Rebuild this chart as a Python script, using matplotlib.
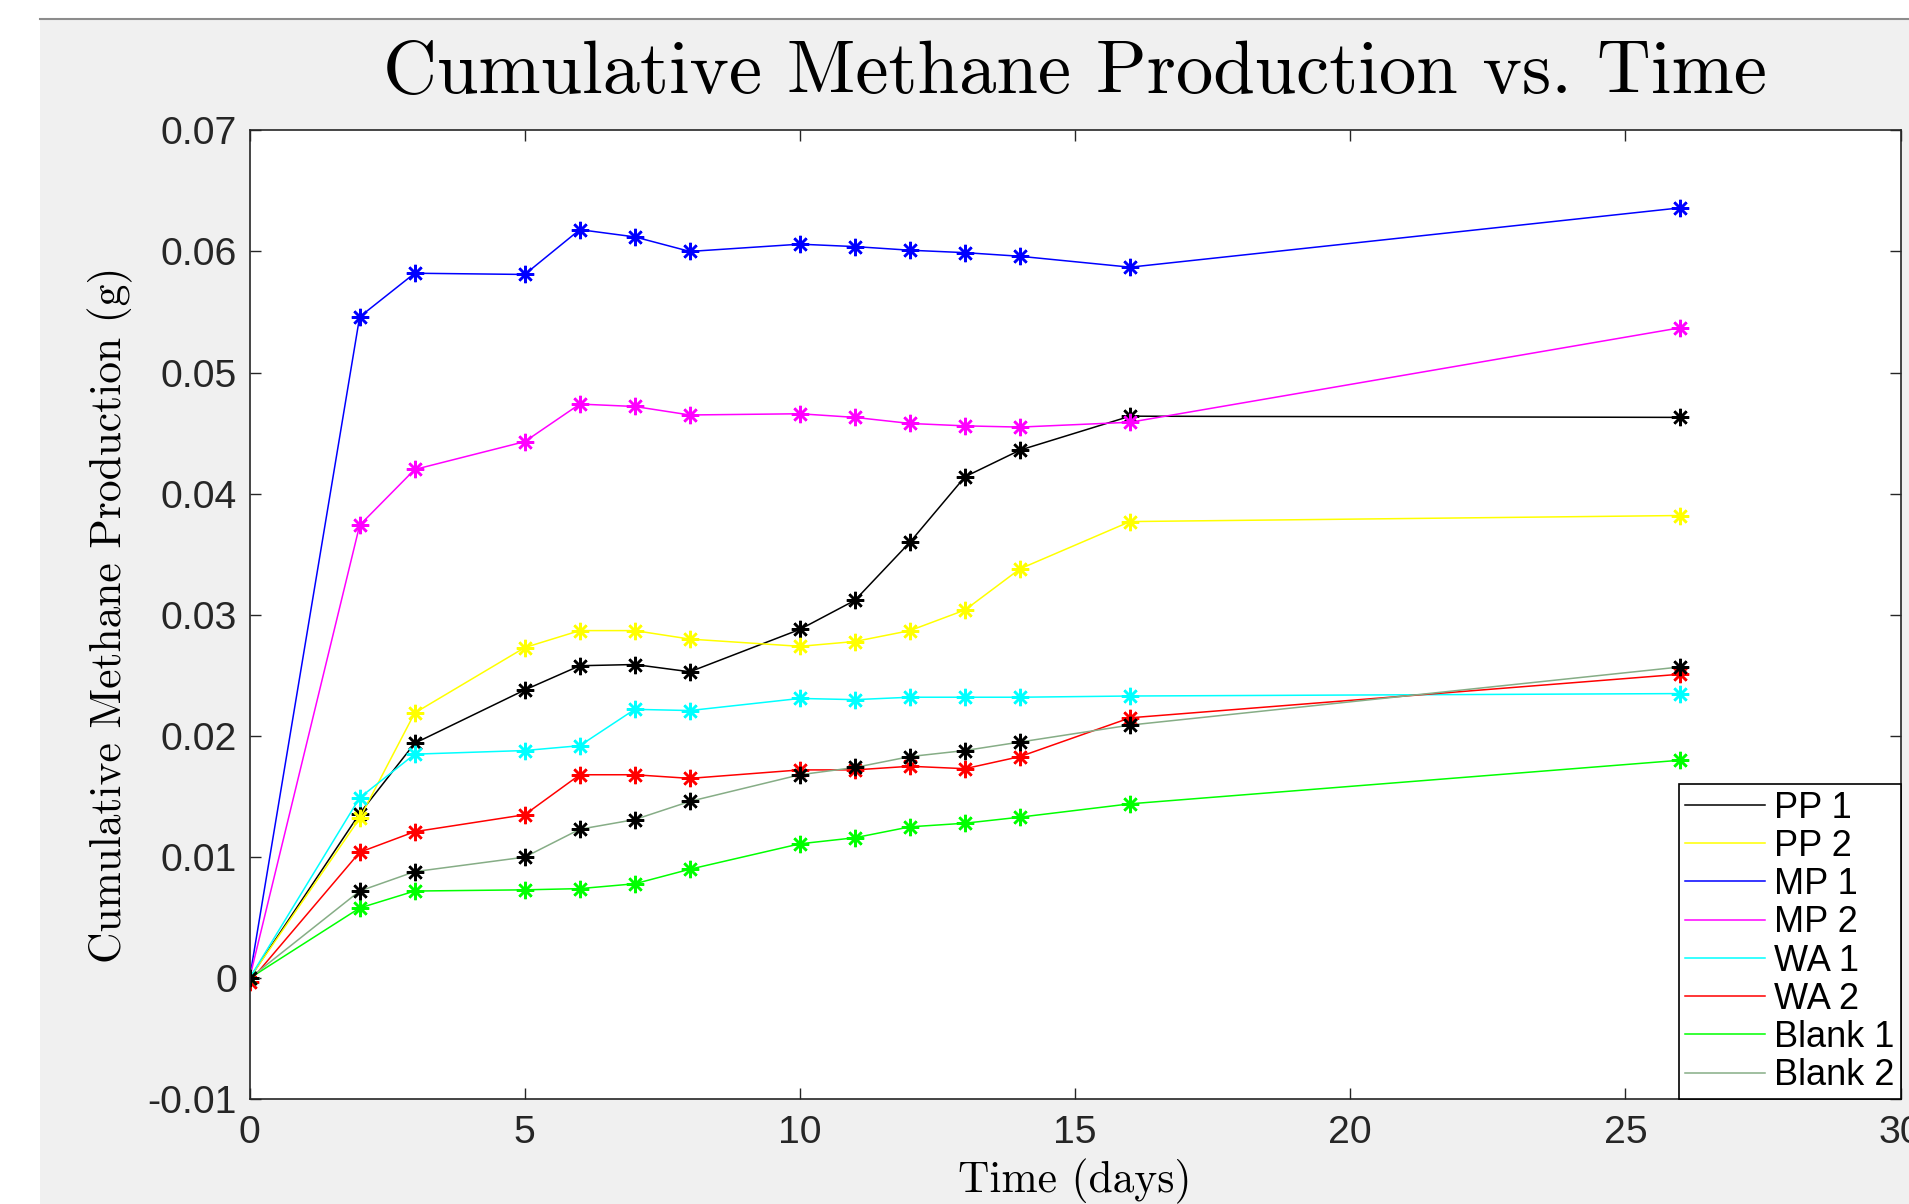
import matplotlib
matplotlib.use('Agg')
import matplotlib.pyplot as plt
from matplotlib.patches import Rectangle
from matplotlib.lines import Line2D

plt.rcParams['font.family'] = ['Liberation Sans', 'DejaVu Sans']

# ---- data ----
days = [0, 2, 3, 5, 6, 7, 8, 10, 11, 12, 13, 14, 16, 26]
pp1 = [0, 0.0136, 0.0194, 0.0238, 0.0258, 0.0259, 0.0253, 0.0288, 0.0312, 0.0360, 0.0414, 0.0436, 0.0464, 0.0463]
pp2 = [0, 0.0132, 0.0219, 0.0273, 0.0287, 0.0287, 0.0280, 0.0274, 0.0278, 0.0287, 0.0304, 0.0338, 0.0377, 0.0382]
mp1 = [0, 0.0546, 0.0582, 0.0581, 0.0618, 0.0612, 0.0600, 0.0606, 0.0604, 0.0601, 0.0599, 0.0596, 0.0587, 0.0636]
mp2 = [0, 0.0374, 0.0420, 0.0443, 0.0474, 0.0472, 0.0465, 0.0466, 0.0463, 0.0458, 0.0456, 0.0455, 0.0459, 0.0537]
wa1 = [0, 0.0149, 0.0185, 0.0188, 0.0192, 0.0222, 0.0221, 0.0231, 0.0230, 0.0232, 0.0232, 0.0232, 0.0233, 0.0235]
wa2 = [-0.0003, 0.0104, 0.0121, 0.0135, 0.0168, 0.0168, 0.0165, 0.0172, 0.0172, 0.0175, 0.0173, 0.0183, 0.0215, 0.0251]
blank1 = [0, 0.0058, 0.0072, 0.0073, 0.0074, 0.0078, 0.0090, 0.0111, 0.0116, 0.0125, 0.0128, 0.0133, 0.0144, 0.0180]
blank2 = [0, 0.0072, 0.0088, 0.0100, 0.0123, 0.0131, 0.0146, 0.0168, 0.0174, 0.0183, 0.0188, 0.0195, 0.0209, 0.0257]

series = [pp1, pp2, mp1, mp2, wa1, wa2, blank1, blank2]
labels = ['PP 1', 'PP 2', 'MP 1', 'MP 2', 'WA 1', 'WA 2', 'Blank 1', 'Blank 2']
line_colors = ['#000000', '#ffff00', '#0000ff', '#ff00ff', '#00ffff', '#ff0000', '#00ff00', '#86ad86']
marker_colors = ['#000000', '#ffff00', '#0000ff', '#ff00ff', '#00ffff', '#ff0000', '#00ff00', '#000000']

xticks = [0, 5, 10, 15, 20, 25, 30]
xtick_labels = ['0', '5', '10', '15', '20', '25', '30']
yticks = [-0.01, 0, 0.01, 0.02, 0.03, 0.04, 0.05, 0.06, 0.07]
ytick_labels = ['-0.01', '0', '0.01', '0.02', '0.03', '0.04', '0.05', '0.06', '0.07']

title = 'Cumulative Methane Production vs. Time'
xlabel = 'Time (days)'
ylabel = 'Cumulative Methane Production (g)'

# ---- figure ----
W, H = 1909, 1204
fig = plt.figure(figsize=(W / 100, H / 100), dpi=100, facecolor='white')
fig.patches.append(Rectangle((40 / W, 0), 1, 1 - 19 / H, transform=fig.transFigure,
                             facecolor='#f0f0f0', edgecolor='none', zorder=-10))
fig.add_artist(Line2D([40 / W, 1], [1 - 18.5 / H] * 2, color='#8c8c8c', lw=1.5,
                      transform=fig.transFigure))

left, right = 249.6 / W, 1900.5 / W
top, bottom = 1 - 130.3 / H, 1 - 1099.4 / H
ax = fig.add_axes([left, bottom, right - left, top - bottom])
ax.set_facecolor('white')

for y, lab, lc, mc in zip(series, labels, line_colors, marker_colors):
    ax.plot(days, y, '-', color=lc, lw=1.1, label=lab)
    ax.plot(days, y, linestyle='none', marker=(8, 2, 0), markersize=12.5,
            markeredgewidth=1.8, color=mc, label='_nolegend_')

ax.set_xlim(0, 30)
ax.set_ylim(-0.01, 0.07)
ax.set_xticks(xticks)
ax.set_xticklabels(xtick_labels)
ax.set_yticks(yticks)
ax.set_yticklabels(ytick_labels)
ax.tick_params(direction='in', length=8, width=1.0, top=True, right=True,
               labelsize=28.3, labelcolor='#262626', color='#262626')
ax.tick_params(axis='x', pad=11)
ax.tick_params(axis='y', pad=9)
for s in ax.spines.values():
    s.set_color('#262626')
    s.set_linewidth(1.2)

leg = ax.legend(loc='lower right', borderaxespad=0, fontsize=26, frameon=True,
                fancybox=False, edgecolor='black', framealpha=1,
                handlelength=2.2, handletextpad=0.25, labelspacing=0.09,
                borderpad=0.17)
leg.get_frame().set_linewidth(1.2)

fig.text((left + right) / 2, 1 - 93 / H, title, family='cmr10', fontsize=53.8,
         ha='center', va='baseline', color='black')
fig.text(110 / W, (top + bottom) / 2, ylabel, family='cmr10', fontsize=31.3,
         rotation=90, ha='center', va='center', color='black')
fig.text((left + right) / 2, 1 - 1159 / H, xlabel, family='cmr10', fontsize=31.3,
         ha='center', va='top', color='black')

fig.savefig('out.png', dpi=100, facecolor=fig.get_facecolor())
